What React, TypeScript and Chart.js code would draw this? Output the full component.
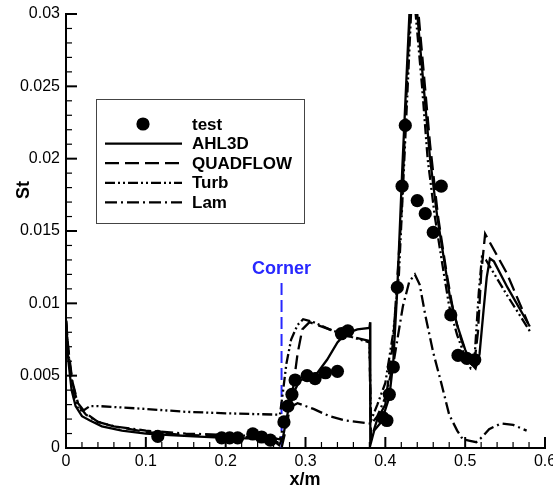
import React, { useEffect, useRef } from "react";
import { Chart, registerables } from "chart.js";

Chart.register(...registerables);

// ---------- data ----------
const testX = [0.115, 0.195, 0.205, 0.215, 0.234, 0.245, 0.256, 0.273, 0.278, 0.283, 0.287, 0.302, 0.312, 0.325, 0.34, 0.345, 0.353, 0.397, 0.402, 0.405, 0.41, 0.415, 0.421, 0.425, 0.44, 0.45, 0.46, 0.47, 0.482, 0.491, 0.502, 0.512];
const testY = [0.0008, 0.0007, 0.0007, 0.0007, 0.00097, 0.00076, 0.00055, 0.0018, 0.0029, 0.0037, 0.0047, 0.005, 0.0048, 0.0052, 0.0053, 0.0079, 0.0081, 0.0021, 0.0019, 0.0037, 0.0056, 0.0111, 0.0181, 0.0223, 0.0171, 0.0162, 0.0149, 0.0181, 0.0092, 0.0064, 0.0062, 0.0061];

const ahl3dX = [0, 0.003, 0.007, 0.012, 0.02, 0.03, 0.045, 0.07, 0.1, 0.13, 0.16, 0.2, 0.24, 0.26, 0.267, 0.272, 0.278, 0.285, 0.292, 0.3, 0.315, 0.327, 0.34, 0.35, 0.365, 0.38, 0.381, 0.3812, 0.386, 0.395, 0.405, 0.41, 0.415, 0.421, 0.426, 0.431, 0.435, 0.44, 0.448, 0.456, 0.465, 0.475, 0.481, 0.49, 0.5, 0.508, 0.513, 0.518, 0.523, 0.527, 0.531, 0.536, 0.553, 0.581];
const ahl3dY = [0.0088, 0.006, 0.004, 0.0029, 0.0022, 0.0019, 0.0015, 0.0012, 0.001, 0.0009, 0.0008, 0.0007, 0.00065, 0.0005, 0.0002, 0.0008, 0.0025, 0.0038, 0.0046, 0.0049, 0.0052, 0.0061, 0.0073, 0.0079, 0.0082, 0.0083, 0.0087, 0.0002, 0.0012, 0.0018, 0.0035, 0.006, 0.011, 0.019, 0.025, 0.031, 0.034, 0.030, 0.025, 0.020, 0.016, 0.0125, 0.0104, 0.0085, 0.0068, 0.0058, 0.0055, 0.0065, 0.0095, 0.0118, 0.0131, 0.0129, 0.0111, 0.0084];

const quadX = [0, 0.003, 0.008, 0.015, 0.025, 0.04, 0.06, 0.1, 0.15, 0.2, 0.25, 0.265, 0.27, 0.275, 0.283, 0.29, 0.296, 0.305, 0.33, 0.35, 0.38, 0.382, 0.39, 0.4, 0.41, 0.42, 0.43, 0.435, 0.44, 0.448, 0.456, 0.466, 0.477, 0.485, 0.495, 0.505, 0.511, 0.516, 0.52, 0.525, 0.552, 0.579];
const quadY = [0.0088, 0.0068, 0.0046, 0.0031, 0.0024, 0.0018, 0.0015, 0.0011, 0.0009, 0.0008, 0.0007, 0.0004, 0.0, 0.0012, 0.0035, 0.0065, 0.0082, 0.0087, 0.0082, 0.0078, 0.0074, 0.0006, 0.002, 0.003, 0.0075, 0.016, 0.029, 0.034, 0.031, 0.026, 0.021, 0.016, 0.012, 0.0095, 0.0075, 0.006, 0.0056, 0.008, 0.012, 0.0148, 0.0121, 0.0086];

const turbX = [0, 0.004, 0.01, 0.016, 0.022, 0.03, 0.04, 0.07, 0.1, 0.15, 0.2, 0.268, 0.272, 0.276, 0.282, 0.29, 0.297, 0.31, 0.33, 0.35, 0.38, 0.382, 0.39, 0.4, 0.41, 0.417, 0.423, 0.428, 0.433, 0.436, 0.438, 0.446, 0.453, 0.462, 0.472, 0.48, 0.49, 0.5, 0.507, 0.511, 0.517, 0.521, 0.526, 0.552, 0.583];
const turbY = [0.0088, 0.006, 0.0035, 0.0026, 0.0026, 0.0029, 0.0029, 0.0028, 0.0027, 0.0025, 0.0024, 0.0023, 0.004, 0.0058, 0.0075, 0.0085, 0.0089, 0.0087, 0.0082, 0.0078, 0.0073, 0.0019, 0.003, 0.0045, 0.008, 0.012, 0.019, 0.025, 0.031, 0.033, 0.030, 0.025, 0.020, 0.016, 0.0125, 0.0098, 0.0078, 0.0063, 0.0055, 0.0056, 0.0107, 0.0132, 0.013, 0.0106, 0.0079];

const lamX = [0, 0.003, 0.008, 0.015, 0.025, 0.04, 0.06, 0.1, 0.15, 0.2, 0.25, 0.268, 0.272, 0.28, 0.29, 0.31, 0.33, 0.35, 0.38, 0.383, 0.39, 0.4, 0.41, 0.422, 0.43, 0.437, 0.443, 0.45, 0.46, 0.47, 0.48, 0.49, 0.497, 0.506, 0.514, 0.522, 0.53, 0.545, 0.56, 0.577];
const lamY = [0.0088, 0.0065, 0.0045, 0.003, 0.0023, 0.0018, 0.0015, 0.0012, 0.001, 0.0009, 0.0008, 0.0006, 0.0015, 0.0028, 0.0031, 0.0027, 0.0022, 0.0019, 0.0017, 0.0017, 0.0022, 0.0035, 0.0058, 0.0098, 0.0115, 0.012, 0.0113, 0.0092, 0.0066, 0.0045, 0.0023, 0.0012, 0.0006, 0.0005, 0.0004, 0.0008, 0.0013, 0.0017, 0.0016, 0.0012];

const cornerX = [0.27, 0.27];
const cornerY = [0, 0.0117];

const xTickValues = [0, 0.1, 0.2, 0.3, 0.4, 0.5, 0.6];
const xTickLabels = ["0", "0.1", "0.2", "0.3", "0.4", "0.5", "0.6"];
const yTickValues = [0, 0.005, 0.01, 0.015, 0.02, 0.025, 0.03];
const yTickLabels = ["0", "0.005", "0.01", "0.015", "0.02", "0.025", "0.03"];

const seriesNames = ["test", "AHL3D", "QUADFLOW", "Turb", "Lam"];

const pts = (xs: number[], ys: number[]) => xs.map((x, i) => ({ x, y: ys[i] }));

const FONT = "'Liberation Sans', Arial, Helvetica, sans-serif";
const LW = 2.3;

const dashes: Record<string, number[]> = {
  AHL3D: [],
  QUADFLOW: [14, 6],
  Turb: [10, 3, 2, 3, 2, 3],
  Lam: [12, 4, 2, 4],
};

const overlayPlugin = {
  id: "overlay",
  afterDraw(chart: any) {
    const ctx = chart.ctx as CanvasRenderingContext2D;
    const { left, bottom } = chart.chartArea;
    const xs = chart.scales.x;
    const ys = chart.scales.y;
    ctx.save();
    ctx.strokeStyle = "#000";
    // inward ticks
    for (let i = 0; i <= 30; i++) {
      const major = i % 5 === 0;
      ctx.lineWidth = major ? 2 : 1.2;
      const py = ys.getPixelForValue(i * 0.001);
      ctx.beginPath();
      ctx.moveTo(left, py);
      ctx.lineTo(left + (major ? 11 : 6), py);
      ctx.stroke();
      const px = xs.getPixelForValue(i * 0.02);
      ctx.beginPath();
      ctx.moveTo(px, bottom);
      ctx.lineTo(px, bottom - (major ? 11 : 6));
      ctx.stroke();
    }
    // axis titles
    ctx.fillStyle = "#000";
    ctx.font = `bold 18px ${FONT}`;
    ctx.textAlign = "center";
    ctx.textBaseline = "alphabetic";
    ctx.fillText("x/m", 305, 485);
    ctx.save();
    ctx.translate(29, 190);
    ctx.rotate(-Math.PI / 2);
    ctx.textBaseline = "alphabetic";
    ctx.fillText("St", 0, 0);
    ctx.restore();

    // corner label
    ctx.fillStyle = "rgb(40,40,255)";
    ctx.font = `bold 18px ${FONT}`;
    ctx.textAlign = "center";
    ctx.textBaseline = "middle";
    ctx.fillText("Corner", xs.getPixelForValue(cornerX[0]), 269);

    // legend
    const bx = 96, by = 99, bw = 208, bh = 124;
    ctx.fillStyle = "#fff";
    ctx.fillRect(bx, by, bw, bh);
    ctx.strokeStyle = "#444";
    ctx.lineWidth = 1;
    ctx.setLineDash([]);
    ctx.strokeRect(bx + 0.5, by + 0.5, bw, bh);
    seriesNames.forEach((name, i) => {
      const y = 124 + i * 19.6;
      ctx.strokeStyle = "#000";
      ctx.fillStyle = "#000";
      if (name === "test") {
        ctx.beginPath();
        ctx.arc(143, y, 6.6, 0, Math.PI * 2);
        ctx.fill();
      } else {
        ctx.lineWidth = LW;
        ctx.setLineDash(dashes[name]);
        ctx.beginPath();
        ctx.moveTo(105, y);
        ctx.lineTo(182, y);
        ctx.stroke();
        ctx.setLineDash([]);
      }
      ctx.font = `bold 17px ${FONT}`;
      ctx.textAlign = "left";
      ctx.textBaseline = "middle";
      ctx.fillText(name, 192, y + 1);
    });
    ctx.restore();
  },
};

export default function App() {
  const ref = useRef<HTMLCanvasElement | null>(null);
  useEffect(() => {
    if (!ref.current) return;
    const lineDs = (label: string, xs: number[], ys: number[], dash: number[]) => ({
      label,
      data: pts(xs, ys),
      showLine: true,
      borderColor: "#000",
      backgroundColor: "#000",
      borderWidth: LW,
      borderDash: dash,
      pointRadius: 0,
      tension: 0,
    });
    const chart = new Chart(ref.current, {
      type: "scatter",
      data: {
        datasets: [
          {
            label: "test",
            data: pts(testX, testY),
            showLine: false,
            pointRadius: 6.6,
            pointBackgroundColor: "#000",
            pointBorderColor: "#000",
            pointBorderWidth: 0,
          } as any,
          lineDs("AHL3D", ahl3dX, ahl3dY, dashes.AHL3D),
          lineDs("QUADFLOW", quadX, quadY, dashes.QUADFLOW),
          lineDs("Turb", turbX, turbY, dashes.Turb),
          lineDs("Lam", lamX, lamY, dashes.Lam),
          {
            label: "corner",
            data: pts(cornerX, cornerY),
            showLine: true,
            borderColor: "rgb(40,40,255)",
            borderWidth: 2,
            borderDash: [12, 5],
            pointRadius: 0,
          } as any,
        ],
      },
      options: {
        responsive: false,
        animation: false,
        devicePixelRatio: 1,
        layout: { padding: { left: 0, right: 8, top: 14, bottom: 0 } },
        plugins: { legend: { display: false }, tooltip: { enabled: false } },
        scales: {
          x: {
            type: "linear",
            min: 0,
            max: 0.6,
            grid: { display: false, drawTicks: false },
            border: { display: true, color: "#000", width: 2 },
            ticks: {
              padding: 4,
              color: "#000",
              font: { family: FONT, size: 16 },
              callback: (v: any) => {
                const i = xTickValues.findIndex((t) => Math.abs(t - v) < 1e-9);
                return i >= 0 ? xTickLabels[i] : "";
              },
            },
            afterBuildTicks: (s: any) => {
              s.ticks = xTickValues.map((value) => ({ value }));
            },
            afterFit: (s: any) => {
              s.height = 40;
              s.paddingLeft = 0;
              s.paddingRight = 0;
            },
          },
          y: {
            type: "linear",
            min: 0,
            max: 0.03,
            grid: { display: false, drawTicks: false },
            border: { display: true, color: "#000", width: 2 },
            ticks: {
              padding: 6,
              color: "#000",
              font: { family: FONT, size: 16 },
              callback: (v: any) => {
                const i = yTickValues.findIndex((t) => Math.abs(t - v) < 1e-9);
                return i >= 0 ? yTickLabels[i] : "";
              },
            },
            afterBuildTicks: (s: any) => {
              s.ticks = yTickValues.map((value) => ({ value }));
            },
            afterFit: (s: any) => {
              s.width = 66;
              s.paddingTop = 0;
              s.paddingBottom = 0;
            },
          },
        },
      },
      plugins: [overlayPlugin],
    });
    return () => chart.destroy();
  }, []);
  return (
    <div style={{ position: "fixed", left: 0, top: 0, width: 553, height: 488, background: "#fff" }}>
      <canvas ref={ref} width={553} height={488} />
    </div>
  );
}
